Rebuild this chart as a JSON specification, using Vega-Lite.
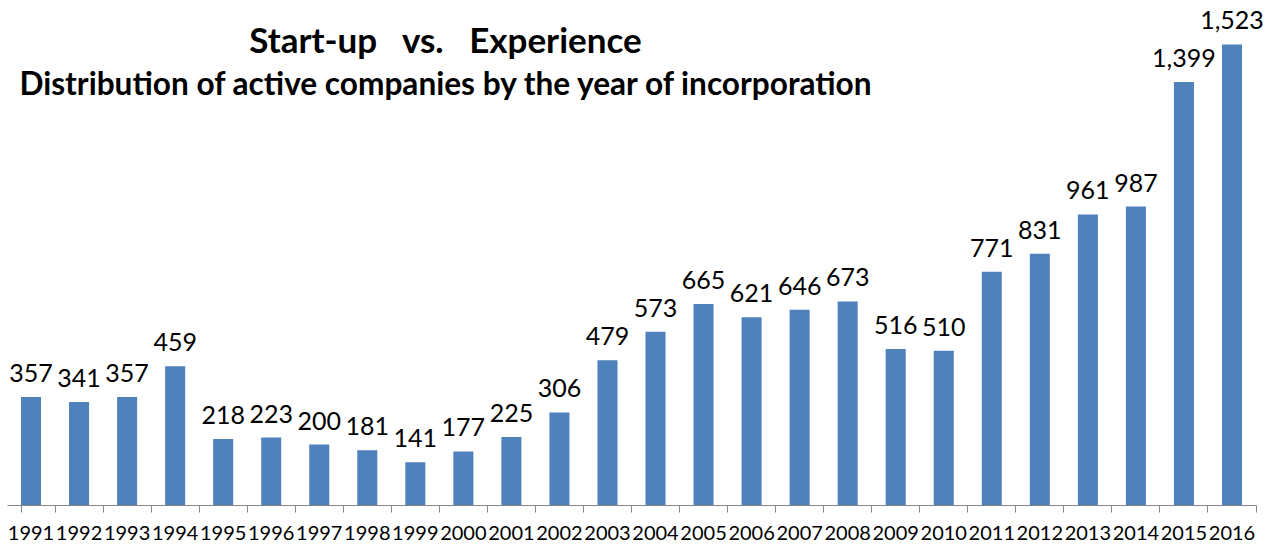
{
  "$schema": "https://vega.github.io/schema/vega-lite/v6.json",
  "width": 1249,
  "height": 495,
  "autosize": {"type": "none"},
  "padding": {"left": 7, "top": 10, "right": 20, "bottom": 42},
  "background": "white",
  "title": {
    "text": "Start-up\u00a0\u00a0 vs.\u00a0\u00a0 Experience",
    "subtitle": "Distribution of active companies by the year of incorporation",
    "anchor": "middle",
    "frame": "group",
    "dx": -186,
    "offset": -92,
    "font": "Lato",
    "fontSize": 35,
    "fontWeight": "bold",
    "color": "black",
    "subtitleFont": "Lato",
    "subtitleFontSize": 31.6,
    "subtitleFontWeight": "bold",
    "subtitleColor": "black",
    "subtitlePadding": 10
  },
  "data": {
    "values": [
      {"year": "1991", "count": 357},
      {"year": "1992", "count": 341},
      {"year": "1993", "count": 357},
      {"year": "1994", "count": 459},
      {"year": "1995", "count": 218},
      {"year": "1996", "count": 223},
      {"year": "1997", "count": 200},
      {"year": "1998", "count": 181},
      {"year": "1999", "count": 141},
      {"year": "2000", "count": 177},
      {"year": "2001", "count": 225},
      {"year": "2002", "count": 306},
      {"year": "2003", "count": 479},
      {"year": "2004", "count": 573},
      {"year": "2005", "count": 665},
      {"year": "2006", "count": 621},
      {"year": "2007", "count": 646},
      {"year": "2008", "count": 673},
      {"year": "2009", "count": 516},
      {"year": "2010", "count": 510},
      {"year": "2011", "count": 771},
      {"year": "2012", "count": 831},
      {"year": "2013", "count": 961},
      {"year": "2014", "count": 987},
      {"year": "2015", "count": 1399},
      {"year": "2016", "count": 1523}
    ]
  },
  "encoding": {
    "x": {
      "field": "year",
      "type": "ordinal",
      "sort": null,
      "title": null,
      "scale": {"paddingInner": 0.583, "paddingOuter": 0.2915},
      "axis": {
        "labelAngle": 0,
        "labelFont": "Lato",
        "labelFontSize": 20,
        "labelColor": "black",
        "labelPadding": 11,
        "domainColor": "#868686",
        "tickColor": "#868686",
        "tickSize": 7,
        "bandPosition": 1.7,
        "tickExtra": true
      }
    },
    "y": {
      "field": "count",
      "type": "quantitative",
      "scale": {"domain": [0, 1637], "nice": false, "zero": true},
      "axis": null
    }
  },
  "layer": [
    {"mark": {"type": "bar", "color": "#4F81BD"}},
    {
      "mark": {"type": "text", "baseline": "alphabetic", "dy": -15, "font": "Lato", "fontSize": 25, "color": "black"},
      "encoding": {"text": {"field": "count", "type": "quantitative", "format": ","}}
    }
  ],
  "config": {"view": {"stroke": null}}
}
